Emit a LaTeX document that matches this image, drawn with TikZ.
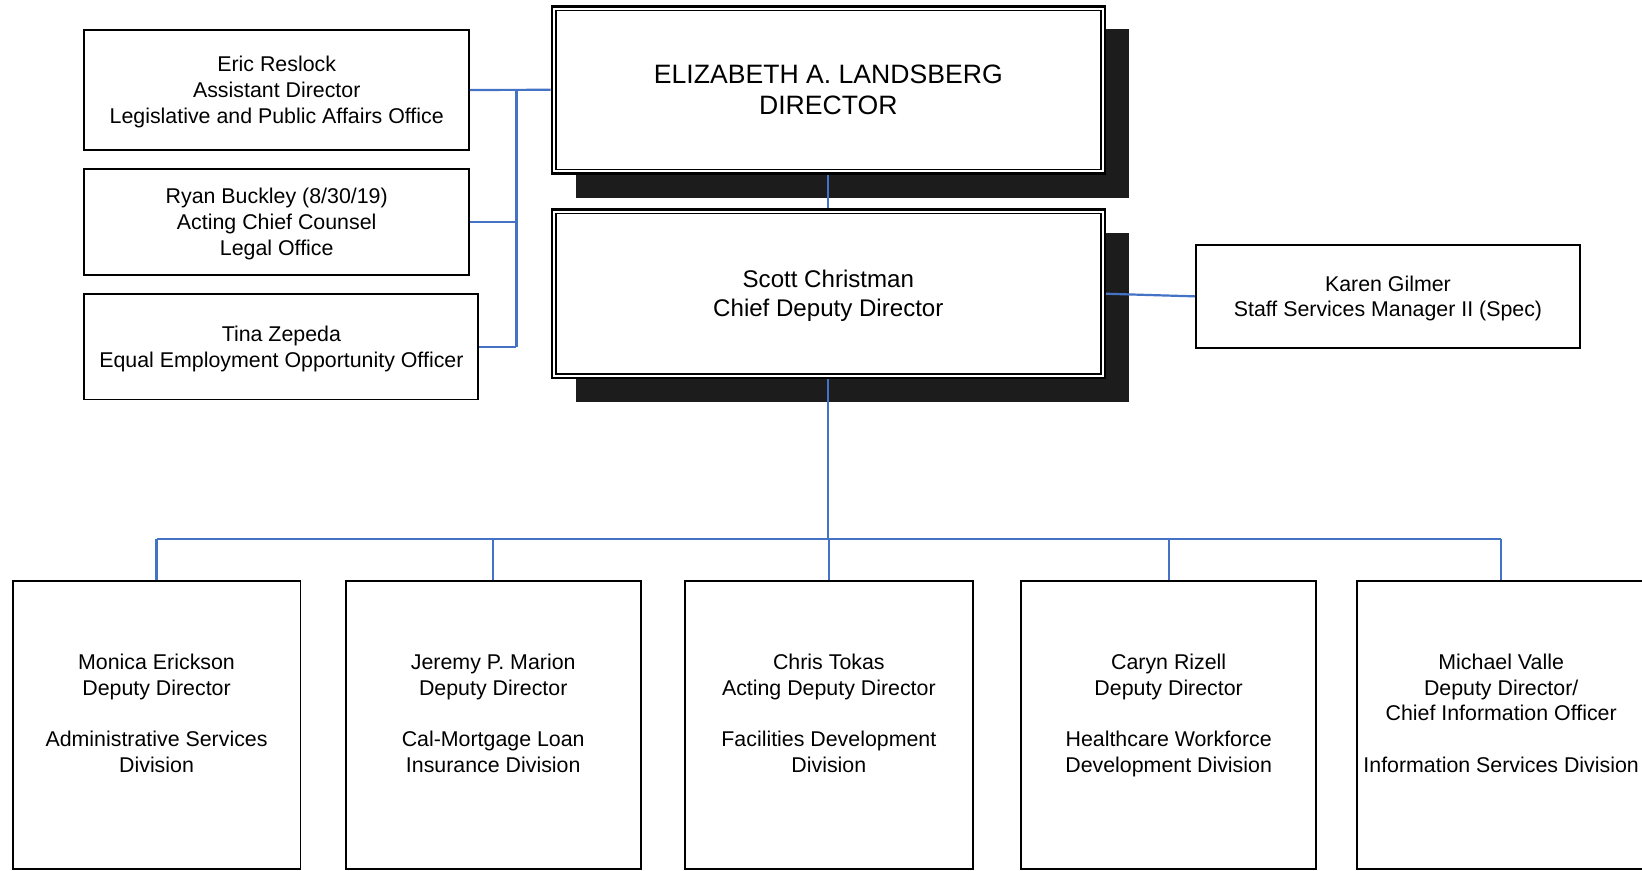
\documentclass[tikz,border=0pt]{standalone}
\usepackage{fontspec}
\setmainfont{Liberation Sans}
\definecolor{connblue}{RGB}{68,114,196}
\definecolor{shadowc}{RGB}{28,28,28}
\newcommand\ts{\rule{0pt}{0.95em}}
\newcommand\bs{\rule[-0.24em]{0pt}{0.24em}}
\begin{document}
\begin{tikzpicture}[x=0.5pt,y=-0.5pt,
  box/.style={draw=black, line width=0.9pt, fill=white, inner sep=0pt, align=center, font=\fontsize{10.2}{12.25}\selectfont},
  bigbox/.style={draw=black, line width=1.2pt, fill=white, inner sep=0pt, align=center, minimum width=264pt},
  lbl/.style={align=center, font=\fontsize{10.2}{12.25}\selectfont, inner sep=0pt},
  conn/.style={draw=connblue, line width=1.05pt}]
\useasboundingbox (0,0) rectangle (1568,830.8);

% shadows
\fill[shadowc] (550,28) rectangle (1078,189);
\fill[shadowc] (550,222.5) rectangle (1078,383.5);

% director and chief deputy
\node[bigbox, minimum height=79.75pt, font=\fontsize{12.7}{15}\selectfont] (dir) at (791,85.75) {\ts ELIZABETH A. LANDSBERG\\DIRECTOR\bs};
\draw[line width=0.7pt] ([shift={(5,5)}]dir.north west) rectangle ([shift={(-5,-5)}]dir.south east);
\node[bigbox, minimum height=80.5pt, font=\fontsize{11.5}{14}\selectfont] (chief) at (791,280.5) {\ts Scott Christman\\Chief Deputy Director\bs};
\draw[line width=0.7pt] ([shift={(5,5)}]chief.north west) rectangle ([shift={(-5,-5)}]chief.south east);

% left staff boxes
\node[box, minimum width=183.65pt, minimum height=57.3pt] (eric) at (264.25,85.9) {\ts Eric Reslock\\Assistant Director\\Legislative and Public Affairs Office\bs};
\node[box, minimum width=183.65pt, minimum height=50.3pt] (ryan) at (264.25,212) {\ts Ryan Buckley (8/30/19)\\Acting Chief Counsel\\Legal Office\bs};
\node[box, minimum width=188.1pt, minimum height=50.4pt] (tina) at (268.7,331.1) {\ts Tina Zepeda\\Equal Employment Opportunity Officer\bs};

% right staff box
\node[box, minimum width=183.4pt, minimum height=49pt] (karen) at (1325.4,283) {\ts Karen Gilmer\\Staff Services Manager II (Spec)\bs};

% division boxes
\node[box, minimum width=137.5pt, minimum height=137.25pt] (b1) at (149.5,692.25) {};
\node[box, minimum width=141pt, minimum height=137.25pt] (b2) at (471,692.25) {};
\node[box, minimum width=137.5pt, minimum height=137.25pt] (b3) at (791.5,692.25) {};
\node[box, minimum width=141pt, minimum height=137.25pt] (b4) at (1116,692.25) {};
\node[box, minimum width=137.5pt, minimum height=137.25pt] (b5) at (1433.5,692.25) {};

\node[lbl] (t1) at (149.5,681) {\ts Monica Erickson\\Deputy Director\\~\\Administrative Services\\Division\bs};
\node[lbl] (t2) at (471,681) {\ts Jeremy P. Marion\\Deputy Director\\~\\Cal-Mortgage Loan\\Insurance Division\bs};
\node[lbl] (t3) at (791.5,681) {\ts Chris Tokas\\Acting Deputy Director\\~\\Facilities Development\\Division\bs};
\node[lbl] (t4) at (1116,681) {\ts Caryn Rizell\\Deputy Director\\~\\Healthcare Workforce\\Development Division\bs};
\node[lbl] (t5) at (1433.5,681) {\ts Michael Valle\\Deputy Director/\\Chief Information Officer\\~\\Information Services Division\bs};

% connectors
\coordinate (busT) at (493.2,85.9);
\coordinate (busB) at (493.2,331.1);
\draw[conn] (eric.east) -- (dir.west);
\draw[conn] (busT) -- (busB);
\draw[conn] (ryan.east) -- (ryan.east -| busT);
\draw[conn] (tina.east) -- (busB);
\draw[conn] (dir.south) -- (chief.north);
\draw[conn] (chief.east) -- (karen.west);

\coordinate (bus) at (791,515);
\draw[conn] (chief.south) -- (chief.south |- bus);
\draw[conn] (b1.north |- bus) -- (b5.north |- bus);
\draw[conn] (b1.north |- bus) -- (b1.north);
\draw[conn] (b2.north |- bus) -- (b2.north);
\draw[conn] (b3.north |- bus) -- (b3.north);
\draw[conn] (b4.north |- bus) -- (b4.north);
\draw[conn] (b5.north |- bus) -- (b5.north);
\end{tikzpicture}
\end{document}
